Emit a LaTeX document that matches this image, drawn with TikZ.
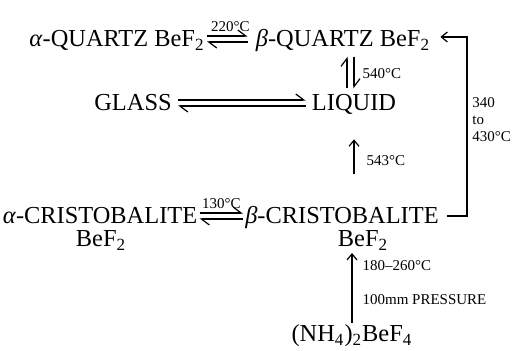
\documentclass[tikz,border=0pt]{standalone}
\usepackage{fontspec}
\setmainfont{Liberation Serif}
\usetikzlibrary{arrows.meta, positioning}
\tikzset{
  phase/.style={inner sep=1pt, font=\fontsize{12.2}{14}\selectfont},
  templbl/.style={inner sep=1pt, font=\fontsize{7.5}{8.5}\selectfont},
  fwd/.style={-{Straight Barb[left, length=4pt, width=6pt]}, line width=0.6pt},
  arrow/.style={-{Straight Barb[length=3pt, width=5pt]}, line width=0.6pt}
}

\begin{document}
\begin{tikzpicture}[x=0.5pt, y=-0.5pt]
  \useasboundingbox (0,0) rectangle (513,351);

  % Quartz forms
  \node[phase, anchor=base] (aq) at (117,47) {\textit{α}-QUARTZ BeF\textsubscript{2}};
  \node[phase, anchor=base] (bq) at (343,47) {\textit{β}-QUARTZ BeF\textsubscript{2}};

  % Glass and melt
  \node[phase, anchor=base] (glass) at (133,111) {GLASS};
  \node[phase, anchor=base] (liquid) at (354,111) {LIQUID};

  % Cristobalite forms
  \node[phase, anchor=base] (ac) at (100,224) {\textit{α}-CRISTOBALITE};
  \node[phase, anchor=base] (acf) at (101,247) {BeF\textsubscript{2}};
  \node[phase, anchor=base] (bc) at (342,224) {\textit{β}-CRISTOBALITE};
  \node[phase, anchor=base] (bcf) at (363,247) {BeF\textsubscript{2}};

  % Starting salt
  \node[phase, anchor=base] (nh) at (352,342) {(NH\textsubscript{4})\textsubscript{2}BeF\textsubscript{4}};

  % alpha/beta quartz
  \draw[fwd, shorten >=3pt] ([yshift=5.5pt]aq.base east) -- ([yshift=5.5pt]bq.base west)
    node[midway, above=1pt, templbl] {220°C};
  \draw[fwd, shorten <=3pt] ([yshift=2.5pt]bq.base west) -- ([yshift=2.5pt]aq.base east);

  % beta quartz / liquid
  \draw[fwd, shorten <=2pt, shorten >=1pt] ([xshift=-3.5pt]liquid.north) -- ([xshift=-3.5pt]liquid.north |- bq.south);
  \draw[fwd, shorten <=1pt, shorten >=2pt] (liquid.north |- bq.south) -- (liquid.north)
    node[midway, right=3pt, templbl] {540°C};

  % glass / liquid
  \draw[fwd, shorten <=2pt, shorten >=2pt] ([yshift=5.5pt]glass.base east) -- ([yshift=5.5pt]liquid.base west);
  \draw[fwd, shorten <=2pt, shorten >=2pt] ([yshift=2.5pt]liquid.base west) -- ([yshift=2.5pt]glass.base east);

  % beta cristobalite melts
  \draw[arrow, shorten <=15pt, shorten >=11pt] (liquid.south |- bc.north) -- (liquid.south)
    node[midway, right=5pt, templbl] {543°C};

  % alpha/beta cristobalite
  \draw[fwd] ([yshift=5.5pt]ac.base east) -- ([yshift=5.5pt]bc.base west)
    node[midway, above=1pt, templbl] {130°C};
  \draw[fwd] ([yshift=2.5pt]bc.base west) -- ([yshift=2.5pt]ac.base east);

  % beta cristobalite to beta quartz
  \coordinate (loop) at (467,120);
  \draw[arrow, shorten >=4pt] ([xshift=3pt, yshift=4pt]bc.base east) -| (loop) |- ([yshift=5pt]bq.base east);
  \node[templbl, anchor=west, align=left, inner sep=0.5pt] (range) at ([xshift=2pt]loop) {340\\to\\430°C};

  % decomposition of the salt
  \draw[arrow] (nh.north) -- (nh.north |- bcf.south)
    node[pos=0.33, right=4pt, templbl] {100mm PRESSURE}
    node[pos=0.82, right=4pt, templbl] {180–260°C};
\end{tikzpicture}
\end{document}
